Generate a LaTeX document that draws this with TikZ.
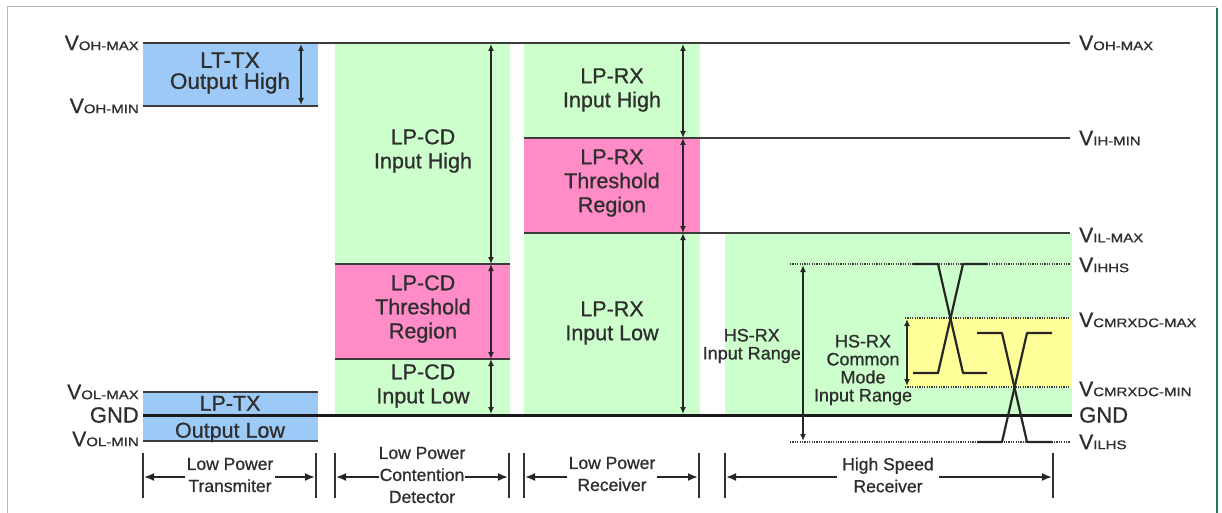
\documentclass[tikz,border=0pt]{standalone}
\usepackage{fontspec}
\usepackage{graphicx}
\setmainfont{Liberation Sans}
\newfontfamily\heavyfont{Liberation Sans}[FakeBold=0.8]
\usetikzlibrary{arrows.meta}
\definecolor{bluebox}{HTML}{9CC9F5}
\definecolor{greenbox}{HTML}{CCFFCC}
\definecolor{pinkbox}{HTML}{FF8CC6}
\definecolor{yellowbox}{HTML}{FFFF99}
\definecolor{linegray}{HTML}{3C3C3C}
\definecolor{txt}{HTML}{2E2E2E}
\definecolor{framegreen}{HTML}{1A7A5A}
\newcommand{\vlab}[1]{{\fontsize{21}{21}\selectfont V}{\fontsize{12.5}{12.5}\selectfont\scalebox{1.2}[1]{#1}}}
\begin{document}
\begin{tikzpicture}[x=1pt,y=-1pt,
  lvl/.style={draw=linegray,line width=2.4pt},
  gndline/.style={draw=black!90,line width=3pt},
  dotline/.style={draw=linegray,line width=1.4pt,dash pattern=on 1.2pt off 1.2pt},
  wave/.style={draw=black!85,line width=2.2pt,line join=round},
  dimarrow/.style={{Latex[length=7pt,width=6pt]}-{Latex[length=7pt,width=6pt]},draw=black!85,line width=1.6pt},
  spanarrow/.style={{Latex[length=10pt,width=8pt]}-{Latex[length=10pt,width=8pt]},draw=black!85,line width=1.8pt},
  tick/.style={draw=black!80,line width=2.4pt},
  bigtxt/.style={text=txt,align=center,font=\heavyfont\fontsize{21.5}{24}\selectfont,inner sep=0pt},
  midtxt/.style={text=txt,align=center,font=\heavyfont\fontsize{18}{18}\selectfont,inner sep=0pt},
  smalltxt/.style={text=txt,align=center,font=\heavyfont\fontsize{17.5}{22}\selectfont,fill=white,inner sep=2pt},
  lablL/.style={text=txt,anchor=east,inner sep=0pt,font=\heavyfont},
  lablR/.style={text=txt,anchor=west,inner sep=0pt,font=\heavyfont}]
\useasboundingbox (0,0) rectangle (1222,513);
\fill[white] (0,0) rectangle (1222,513);
% frame
\draw[gray!55,line width=1pt] (7,513) -- (7,7) -- (1217,7);
\draw[framegreen,line width=2pt] (1217,8) -- (1217,513);
% regions
\fill[bluebox] (143,43) rectangle (318,106);
\fill[bluebox] (143,392) rectangle (318,441);
\fill[greenbox] (335,43) rectangle (510,415);
\fill[pinkbox] (335,264) rectangle (510,359);
\fill[greenbox] (524,43) rectangle (700,415);
\fill[pinkbox] (524,138) rectangle (700,233);
\fill[greenbox] (725,233) rectangle (1072,415);
\fill[yellowbox] (905,318) rectangle (1072,387);
% coordinates
\coordinate (ohmaxL) at (143,43);  \coordinate (ohmaxR) at (1070,43);
\coordinate (ohminL) at (143,106); \coordinate (ohminR) at (318,106);
\coordinate (ihminL) at (524,138); \coordinate (ihminR) at (1070,138);
\coordinate (ilmaxL) at (524,233); \coordinate (ilmaxR) at (1070,233);
\coordinate (cdtL) at (335,264);   \coordinate (cdtR) at (510,264);
\coordinate (cdbL) at (335,359);   \coordinate (cdbR) at (510,359);
\coordinate (olmaxL) at (143,392); \coordinate (olmaxR) at (318,392);
\coordinate (olminL) at (143,441); \coordinate (olminR) at (318,441);
\coordinate (gndL) at (143,415);   \coordinate (gndR) at (1072,415);
\coordinate (ihhsL) at (790,264);  \coordinate (ihhsR) at (1070,264);
\coordinate (ilhsL) at (790,442);  \coordinate (ilhsR) at (1070,442);
\coordinate (cmtL) at (905,318);   \coordinate (cmtR) at (1070,318);
\coordinate (cmbL) at (905,387);   \coordinate (cmbR) at (1070,387);
% level lines
\draw[lvl] (ohmaxL) -- (ohmaxR);
\draw[lvl] (ohminL) -- (ohminR);
\draw[lvl] (ihminL) -- (ihminR);
\draw[lvl] (ilmaxL) -- (ilmaxR);
\draw[lvl] (cdtL) -- (cdtR);
\draw[lvl] (cdbL) -- (cdbR);
\draw[lvl] (olmaxL) -- (olmaxR);
\draw[lvl] (olminL) -- (olminR);
\draw[dotline] (ihhsL) -- (ihhsR);
\draw[dotline] (ilhsL) -- (ilhsR);
\draw[dotline] (cmtL) -- (cmtR);
\draw[dotline] (cmbL) -- (cmbR);
% region texts
\node[bigtxt,font=\heavyfont\fontsize{22.5}{21}\selectfont] (lttx) at (230,73) {LT-TX\\Output High};
\node[bigtxt] (lpcdh) at (423,151) {LP-CD\\Input High};
\node[bigtxt] (lpcdt) at (423,309) {LP-CD\\Threshold\\Region};
\node[bigtxt] (lpcdl) at (423,386) {LP-CD\\Input Low};
\node[bigtxt] (lprxh) at (612,90) {LP-RX\\Input High};
\node[bigtxt] (lprxt) at (612,183) {LP-RX\\Threshold\\Region};
\node[bigtxt] (lprxl) at (612,323) {LP-RX\\Input Low};
\node[bigtxt,font=\heavyfont\fontsize{21.5}{27}\selectfont] (lptx) at (230,419) {LP-TX\\Output Low};
\node[midtxt,anchor=east] (hsir) at (801,346) {HS-RX\\Input Range};
\node[midtxt] (hscm) at (863,370) {HS-RX\\Common\\Mode\\Input Range};
\draw[gndline] (gndL) -- (gndR);
% waveforms
\draw[wave] (913,264) -- (938,264) -- (963,373) -- (987,373);
\draw[wave] (913,373) -- (938,373) -- (963,264) -- (987,264);
\draw[wave] (977,333) -- (1002,333) -- (1027,442) -- (1052,442);
\draw[wave] (977,442) -- (1002,442) -- (1027,333) -- (1052,333);
% vertical dimension arrows
\coordinate (a1t) at (301,44); \coordinate (a1b) at (301,105);
\draw[dimarrow] (a1t) -- (a1b);
\coordinate (c0) at (491,44); \coordinate (c1) at (491,264); \coordinate (c2) at (491,359); \coordinate (c3) at (491,414);
\draw[dimarrow] (c0) -- (c1);
\draw[dimarrow] (c1) -- (c2);
\draw[dimarrow] (c2) -- (c3);
\coordinate (r0) at (683,44); \coordinate (r1) at (683,138); \coordinate (r2) at (683,233); \coordinate (r3) at (683,414);
\draw[dimarrow] (r0) -- (r1);
\draw[dimarrow] (r1) -- (r2);
\draw[dimarrow] (r2) -- (r3);
\coordinate (h0) at (803,265); \coordinate (h1) at (803,441);
\draw[dimarrow] (h0) -- (h1);
\coordinate (m0) at (907,319); \coordinate (m1) at (907,386);
\draw[dimarrow] (m0) -- (m1);
% bottom spans
\foreach \x [count=\i] in {143,316,335,509,524,699,725,1053}
  \draw[tick] (\x,453) -- (\x,498);
\coordinate (s1a) at (144,477); \coordinate (s1b) at (315,477);
\coordinate (s2a) at (336,477); \coordinate (s2b) at (508,477);
\coordinate (s3a) at (525,477); \coordinate (s3b) at (698,477);
\coordinate (s4a) at (726,477); \coordinate (s4b) at (1052,477);
\draw[spanarrow] (s1a) -- (s1b);
\draw[spanarrow] (s2a) -- (s2b);
\draw[spanarrow] (s3a) -- (s3b);
\draw[spanarrow] (s4a) -- (s4b);
\node[smalltxt] (t1) at (230,475) {Low Power\\Transmiter};
\node[smalltxt,inner sep=0pt] (t2) at (422,475) {Low Power\\Contention\\Detector};
\node[smalltxt] (t3) at (612,474) {Low Power\\Receiver};
\node[smalltxt,inner xsep=5pt] (t4) at (888,475) {High Speed\\Receiver};
% left labels
\node[lablL] (lohmax) at (139,43) {\vlab{OH-MAX}};
\node[lablL] (lohmin) at (139,106) {\vlab{OH-MIN}};
\node[lablL] (lolmax) at (139,392) {\vlab{OL-MAX}};
\node[lablL,font=\heavyfont\fontsize{22}{22}\selectfont] (lgnd) at (139,415) {GND};
\node[lablL] (lolmin) at (139,439) {\vlab{OL-MIN}};
% right labels
\node[lablR] (rohmax) at (1079,43) {\vlab{OH-MAX}};
\node[lablR] (rihmin) at (1079,138) {\vlab{IH-MIN}};
\node[lablR] (rilmax) at (1079,235) {\vlab{IL-MAX}};
\node[lablR] (rihhs) at (1079,265) {\vlab{IHHS}};
\node[lablR] (rcmmax) at (1079,320) {\vlab{CMRXDC-MAX}};
\node[lablR] (rcmmin) at (1079,389) {\vlab{CMRXDC-MIN}};
\node[lablR,font=\heavyfont\fontsize{22}{22}\selectfont] (rgnd) at (1079,415) {GND};
\node[lablR] (rilhs) at (1079,442) {\vlab{ILHS}};
\end{tikzpicture}
\end{document}
